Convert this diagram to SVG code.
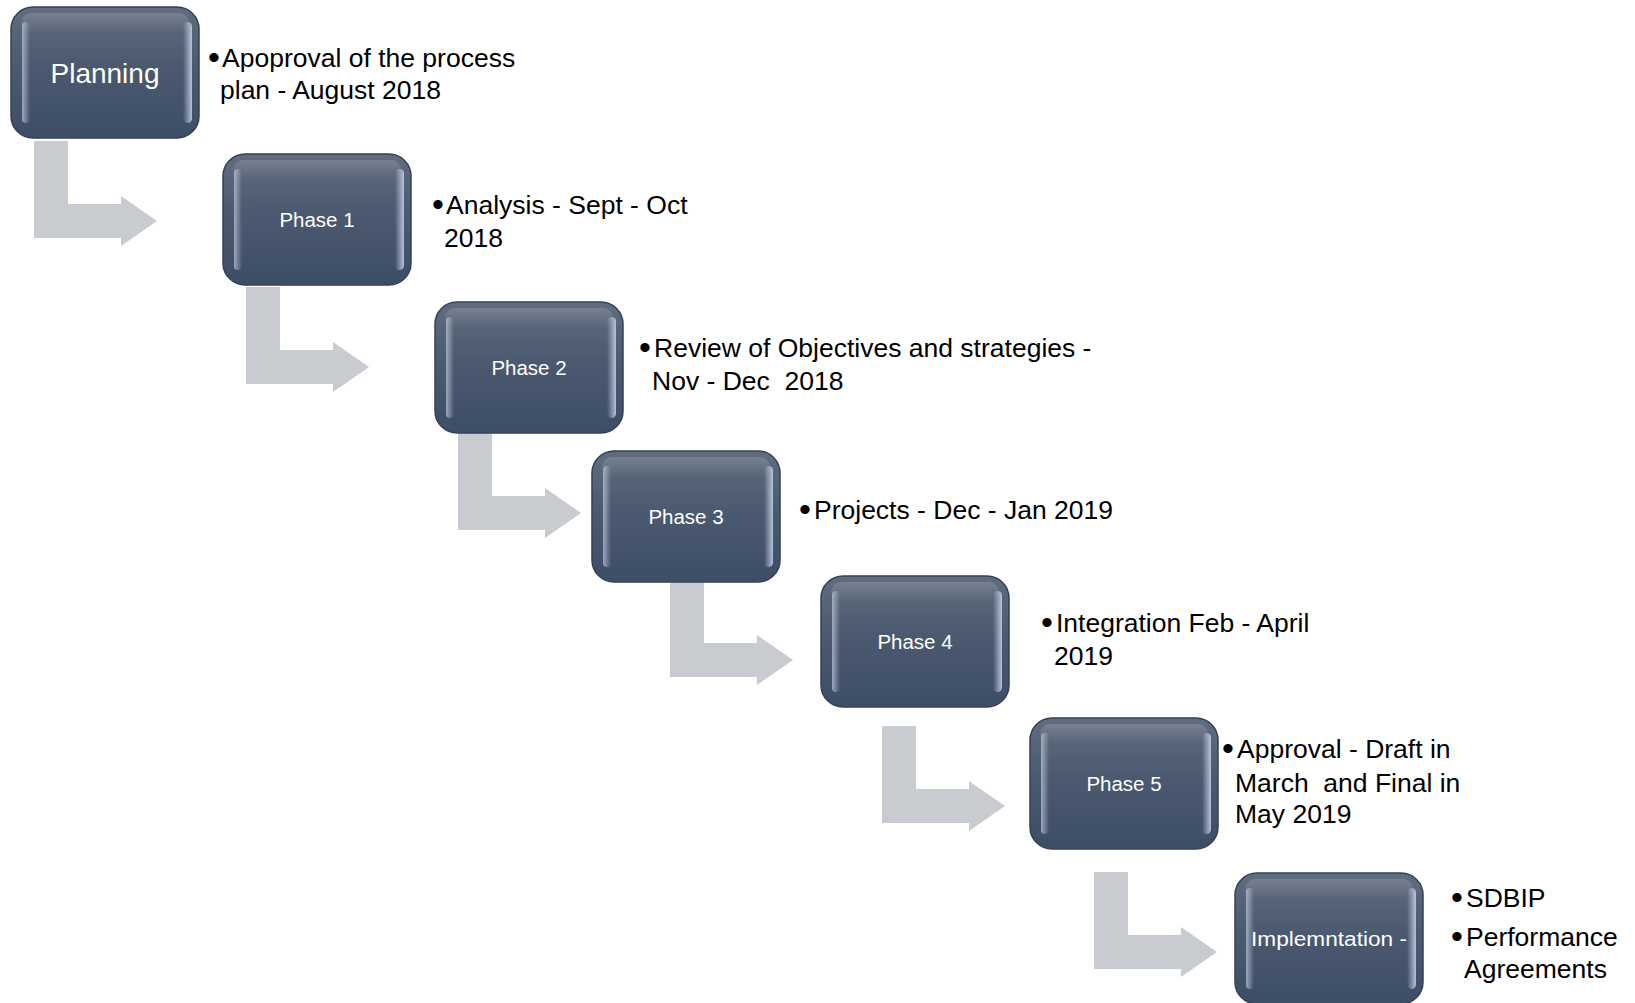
<svg xmlns="http://www.w3.org/2000/svg" xmlns:xlink="http://www.w3.org/1999/xlink" width="1635" height="1003" viewBox="0 0 1635 1003">
<defs>
<linearGradient id="boxFill" x1="0" y1="0" x2="0" y2="1">
<stop offset="0" stop-color="#616D7F"/>
<stop offset="0.45" stop-color="#4B5A70"/>
<stop offset="1" stop-color="#3D4D66"/>
</linearGradient>
<linearGradient id="hlLeft" x1="0" y1="0" x2="1" y2="0">
<stop offset="0" stop-color="#C3CFE0" stop-opacity="0.7"/>
<stop offset="1" stop-color="#C3CFE0" stop-opacity="0"/>
</linearGradient>
<linearGradient id="hlRight" x1="0" y1="0" x2="1" y2="0">
<stop offset="0" stop-color="#C8D6EC" stop-opacity="0"/>
<stop offset="1" stop-color="#C8D6EC" stop-opacity="0.85"/>
</linearGradient>
<linearGradient id="hlTop" x1="0" y1="0" x2="0" y2="1">
<stop offset="0" stop-color="#FFFFFF" stop-opacity="0.15"/>
<stop offset="1" stop-color="#FFFFFF" stop-opacity="0"/>
</linearGradient>
<g id="boxShape">
<rect x="0" y="0" width="188" height="131" rx="22" ry="22" fill="url(#boxFill)" stroke="#334256" stroke-width="1.5"/>
<rect x="10" y="6" width="168" height="20" rx="10" fill="url(#hlTop)"/>
<rect x="11" y="15" width="8" height="101" rx="4" fill="url(#hlLeft)"/>
<rect x="172" y="15" width="9" height="101" rx="4.5" fill="url(#hlRight)"/>
</g>
</defs>
<style>
.arrow{fill:#C8CBCF;stroke:none}
.lbl{font-family:"Liberation Sans",Arial,sans-serif;fill:#FFFFFF;font-size:20.5px;text-anchor:middle}
.lbl-big{font-size:28px}
.desc{font-family:"Liberation Sans",Arial,sans-serif;fill:#000000;font-size:26.5px;white-space:pre}
.bul{font-family:"Liberation Sans",Arial,sans-serif;fill:#000000;font-size:34px}
</style>
<rect width="1635" height="1003" fill="#FFFFFF"/>
<g id="connectors">
<path class="arrow" d="M34,141 h34 V204 h53 V196 L157,221 L121,246 V238 H34 Z"/>
<path class="arrow" d="M246,287 h34 V350 h53 V342 L369,367 L333,392 V384 H246 Z"/>
<path class="arrow" d="M458,433 h34 V496 h53 V488 L581,513 L545,538 V530 H458 Z"/>
<path class="arrow" d="M670,580 h34 V643 h53 V635 L793,660 L757,685 V677 H670 Z"/>
<path class="arrow" d="M882,726 h34 V789 h53 V781 L1005,806 L969,831 V823 H882 Z"/>
<path class="arrow" d="M1094,872 h34 V935 h53 V927 L1217,952 L1181,977 V969 H1094 Z"/>
</g>
<g id="node-planning">
<use xlink:href="#boxShape" href="#boxShape" transform="translate(11,7)"/>
<text class="lbl lbl-big" x="105" y="83">Planning</text>
<text class="bul" x="208" y="69">•</text>
<text class="desc" x="222" y="67">Apoproval of the process</text>
<text class="desc" x="220" y="99">plan - August 2018</text>
</g>
<g id="node-phase1">
<use xlink:href="#boxShape" href="#boxShape" transform="translate(223,154)"/>
<text class="lbl" x="317" y="227">Phase 1</text>
<text class="bul" x="432" y="216">•</text>
<text class="desc" x="446" y="214">Analysis - Sept - Oct</text>
<text class="desc" x="444" y="247">2018</text>
</g>
<g id="node-phase2">
<use xlink:href="#boxShape" href="#boxShape" transform="translate(435,302)"/>
<text class="lbl" x="529" y="375">Phase 2</text>
<text class="bul" x="639" y="359">•</text>
<text class="desc" x="654" y="357">Review of Objectives and strategies -</text>
<text class="desc" x="652" y="390">Nov - Dec  2018</text>
</g>
<g id="node-phase3">
<use xlink:href="#boxShape" href="#boxShape" transform="translate(592,451)"/>
<text class="lbl" x="686" y="524">Phase 3</text>
<text class="bul" x="799" y="521">•</text>
<text class="desc" x="814" y="519">Projects - Dec - Jan 2019</text>
</g>
<g id="node-phase4">
<use xlink:href="#boxShape" href="#boxShape" transform="translate(821,576)"/>
<text class="lbl" x="915" y="649">Phase 4</text>
<text class="bul" x="1041" y="634">•</text>
<text class="desc" x="1056" y="632">Integration Feb - April</text>
<text class="desc" x="1054" y="665">2019</text>
</g>
<g id="node-phase5">
<use xlink:href="#boxShape" href="#boxShape" transform="translate(1030,718)"/>
<text class="lbl" x="1124" y="791">Phase 5</text>
<text class="bul" x="1222" y="760">•</text>
<text class="desc" x="1237" y="758">Approval - Draft in</text>
<text class="desc" x="1235" y="792">March  and Final in</text>
<text class="desc" x="1235" y="823">May 2019</text>
</g>
<g id="node-implementation">
<use xlink:href="#boxShape" href="#boxShape" transform="translate(1235,873)"/>
<text class="lbl" x="1329" y="946" textLength="156" lengthAdjust="spacingAndGlyphs">Implemntation -</text>
<text class="bul" x="1451" y="909">•</text>
<text class="desc" x="1466" y="907">SDBIP</text>
<text class="bul" x="1451" y="948">•</text>
<text class="desc" x="1466" y="946">Performance</text>
<text class="desc" x="1464" y="978">Agreements</text>
</g>
</svg>
